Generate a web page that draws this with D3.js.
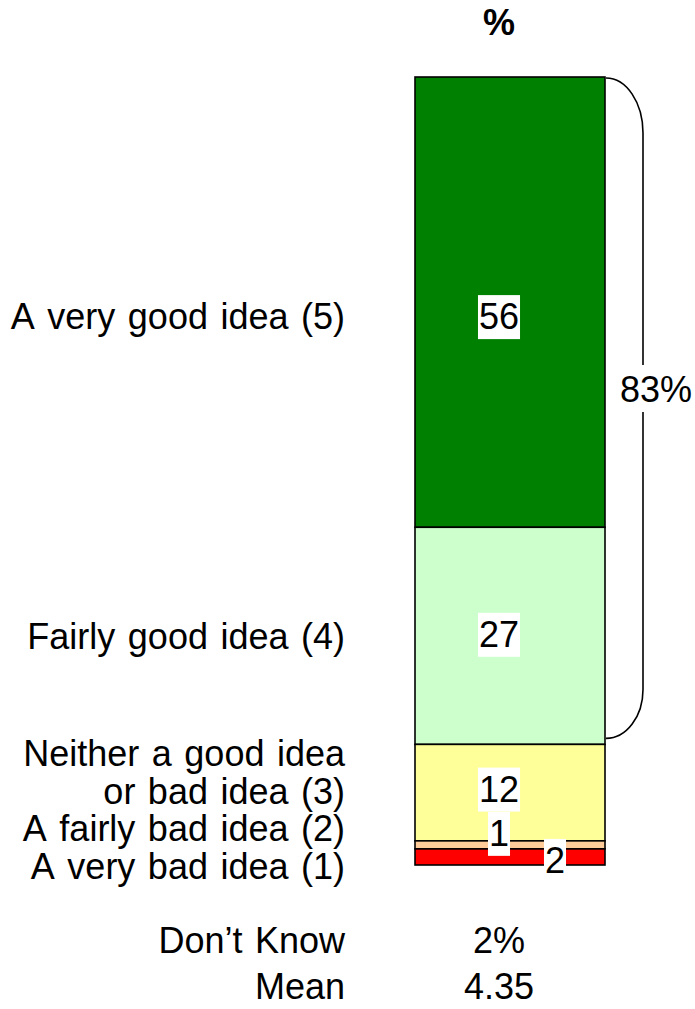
<!DOCTYPE html>
<html>
<head>
<meta charset="utf-8">
<script src="https://cdn.jsdelivr.net/npm/d3@7"></script>
<style>
  html, body { margin: 0; padding: 0; background: #fff; }
  svg { display: block; }
  text { font-family: "Liberation Sans", Arial, sans-serif; fill: #000; font-kerning: none; word-spacing: 2.5px; }
</style>
</head>
<body>
<svg id="chart" width="695" height="1009"></svg>
<script>
// ---- data ----
const categories = ["A very good idea (5)", "Fairly good idea (4)", "Neither a good idea\nor bad idea (3)", "A fairly bad idea (2)", "A very bad idea (1)"];
const values = [56, 27, 12, 1, 2];
const colors = ["#008000", "#CCFFCC", "#FFFF99", "#FFCC99", "#FF0000"];
const netLabel = "83%";
const netCount = 2; // top two categories
const dontKnowLabel = "Don\u2019t Know";
const dontKnowValue = "2%";
const meanLabel = "Mean";
const meanValue = "4.35";
const headerLabel = "%";

// ---- layout ----
const svg = d3.select("#chart");
const barX = 415, barW = 190;
const colX = 499; // column centre for value texts
const leftX = 345;
const fs = 36;

const total = d3.sum(values);
const y = d3.scaleLinear().domain([0, total]).range([865, 77]);

// stack from bottom (last category at bottom)
const segs = [];
let acc = 0;
for (let i = values.length - 1; i >= 0; i--) {
  segs[i] = { i, y0: acc, y1: acc + values[i], v: values[i], c: colors[i], name: categories[i] };
  acc += values[i];
}

// bars
svg.append("g").selectAll("rect").data(segs).join("rect")
  .attr("x", barX).attr("width", barW)
  .attr("y", d => y(d.y1))
  .attr("height", d => y(d.y0) - y(d.y1))
  .attr("fill", d => d.c)
  .attr("stroke", "#000").attr("stroke-width", 1.6);

// value label nudges to avoid overlap (dx, dy in px)
const nudges = [[0, 14], [0, -2], [0, -4], [0, -12], [56, 3]];

const lbl = svg.append("g");
segs.forEach(d => {
  const cy = (y(d.y0) + y(d.y1)) / 2 + nudges[d.i][1];
  const cx = colX + nudges[d.i][0];
  const g = lbl.append("g");
  const t = g.append("text")
    .attr("x", cx).attr("y", cy).attr("dy", "0.36em")
    .attr("text-anchor", "middle")
    .style("font-size", fs + "px")
    .text(d.v);
  const bb = t.node().getBBox();
  g.insert("rect", "text")
    .attr("x", bb.x - 1).attr("y", bb.y - 1)
    .attr("width", bb.width + 2).attr("height", bb.height + 3)
    .attr("fill", "#fff");
});

// category labels on left
const leftCenters = [];
segs.forEach(d => {
  leftCenters[d.i] = (y(d.y0) + y(d.y1)) / 2 + nudges[d.i][1];
});
const lh = 37.5;
// top two labels: aligned with their value labels
[0, 1].forEach(i => {
  svg.append("text")
    .attr("x", leftX).attr("y", leftCenters[i] + (i === 1 ? 2 : 0)).attr("dy", "0.36em")
    .attr("text-anchor", "end")
    .style("font-size", fs + "px")
    .text(categories[i]);
});
// bottom small categories: one stacked block of lines, anchored at the bottom segment
const stackLines = [];
for (let i = 2; i < categories.length; i++) categories[i].split("\n").forEach(l => stackLines.push(l));
const bottomCenter = (y(0) + y(values[values.length - 1])) / 2 + 9;
const firstCenter = bottomCenter - (stackLines.length - 1) * lh;
const stack = svg.append("text")
  .attr("text-anchor", "end")
  .style("font-size", fs + "px");
stackLines.forEach((ln, k) => {
  stack.append("tspan").attr("x", leftX)
    .attr("y", firstCenter + k * lh).attr("dy", "0.36em").text(ln);
});

// header
svg.append("text").attr("x", colX).attr("y", 22).attr("dy", "0.36em")
  .attr("text-anchor", "middle").style("font-size", fs + "px").style("font-weight", "bold")
  .text(headerLabel);

// bracket for top-two net
const netTop = y(total) + 1;
const netBot = y(segs[netCount - 1].y0) - 6;
const bx = 643, x0 = barX + barW + 1;
const rx = bx - x0, ryTop = 55, ryBot = 49;
const gapTop = 365, gapBot = 412;
const textY = (gapTop + gapBot) / 2 + 1;
const bracket = svg.append("g").attr("fill", "none").attr("stroke", "#000").attr("stroke-width", 1.6);
bracket.append("path").attr("d",
  `M${x0},${netTop} A${rx},${ryTop} 0 0 1 ${bx},${netTop + ryTop} L${bx},${gapTop}`);
bracket.append("path").attr("d",
  `M${bx},${gapBot} L${bx},${netBot - ryBot} A${rx},${ryBot} 0 0 1 ${x0},${netBot}`);
svg.append("text").attr("x", 620).attr("y", textY).attr("dy", "0.36em")
  .style("font-size", fs + "px").text(netLabel);

// don't know & mean rows
const rows = [[dontKnowLabel, dontKnowValue, 940], [meanLabel, meanValue, 986]];
rows.forEach(r => {
  svg.append("text").attr("x", leftX).attr("y", r[2]).attr("dy", "0.36em")
    .attr("text-anchor", "end").style("font-size", fs + "px").text(r[0]);
  svg.append("text").attr("x", colX).attr("y", r[2]).attr("dy", "0.36em")
    .attr("text-anchor", "middle").style("font-size", fs + "px").text(r[1]);
});
</script>
</body>
</html>
